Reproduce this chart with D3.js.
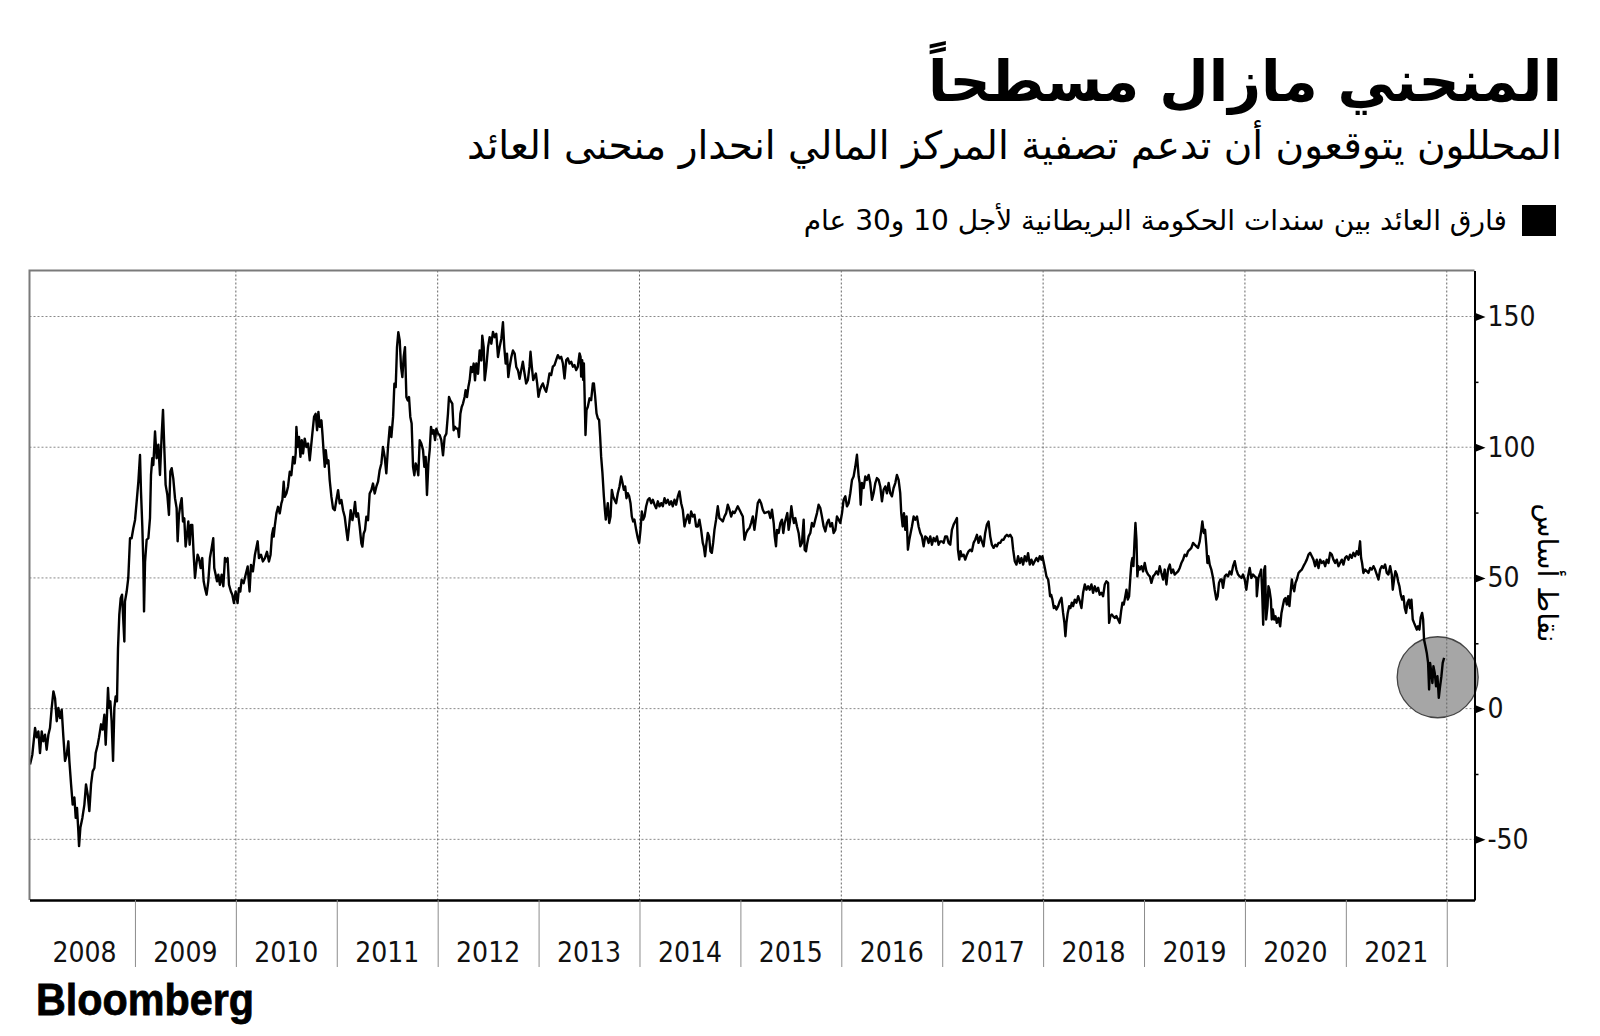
<!DOCTYPE html>
<html><head><meta charset="utf-8">
<script src="https://cdn.jsdelivr.net/npm/d3@7"></script>
<style>body{margin:0;background:#fff}svg{display:block}</style>
</head><body><svg id="c" width="1600" height="1036"></svg>
<script>
// ---------- texts ----------
const titleText = "المنحني مازال مسطحاً";
const subtitleText = "المحللون يتوقعون أن تدعم تصفية المركز المالي انحدار منحنى العائد";
const legendText = "فارق العائد بين سندات الحكومة البريطانية لأجل 10 و30 عام";
const yAxisTitle = "نقاط أساس";
const sourceText = "Bloomberg";

// ---------- axes ----------
const yTicks = [-50, 0, 50, 100, 150];
const yMinorTicks = [-25, 25, 75, 125];
const yearLabels = [2008, 2009, 2010, 2011, 2012, 2013, 2014, 2015, 2016, 2017, 2018, 2019, 2020, 2021];
const yearBoundaries = [2009, 2010, 2011, 2012, 2013, 2014, 2015, 2016, 2017, 2018, 2019, 2020, 2021, 2022];
const gridYears = [2010, 2012, 2014, 2016, 2018, 2020, 2022];
const xDomain = [2007.955, 2022.275];
const yDomain = [-73.2, 167.6];
const highlight = {year: 2021.91, value: 12};

// ---------- series: UK 10y-30y gilt yield spread (bp), [decimal year, value] ----------
const spread2008_2010 = [[2007.960,-21.4],[2007.983,-17.6],[2008.010,-7.4],[2008.026,-11],[2008.043,-8.7],[2008.059,-17],[2008.076,-8.7],[2008.092,-12.5],[2008.109,-10],[2008.125,-15.7],[2008.142,-10],[2008.158,-7.4],[2008.175,0.3],[2008.192,6.6],[2008.208,4],[2008.225,-4.8],[2008.241,0.3],[2008.258,-3.6],[2008.274,-0.4],[2008.291,-11],[2008.307,-20],[2008.324,-17.6],[2008.340,-12.5],[2008.350,-20],[2008.367,-29],[2008.383,-36.7],[2008.400,-34],[2008.413,-41.8],[2008.426,-38],[2008.439,-46.9],[2008.446,-52.6],[2008.459,-45.6],[2008.479,-41.8],[2008.499,-36.7],[2008.515,-29],[2008.532,-32.9],[2008.548,-39.2],[2008.565,-29],[2008.581,-24],[2008.598,-22.7],[2008.611,-17],[2008.631,-13.8],[2008.644,-11],[2008.664,-6],[2008.680,-8],[2008.697,-2.3],[2008.710,-13.8],[2008.723,-2.3],[2008.733,7.9],[2008.743,0.3],[2008.756,2.8],[2008.769,-4.8],[2008.783,-20],[2008.796,0.3],[2008.809,4.7],[2008.822,2.8],[2008.832,23],[2008.845,36],[2008.859,42.3],[2008.872,43.6],[2008.885,33.4],[2008.895,25.7],[2008.901,41],[2008.918,44.8],[2008.934,50],[2008.951,65.2],[2008.967,65.2],[2008.984,69],[2009.001,72.2],[2009.017,79.2],[2009.034,86.9],[2009.050,97],[2009.060,83],[2009.073,69.7],[2009.083,56],[2009.090,37.2],[2009.100,56],[2009.116,64.6],[2009.133,65.2],[2009.149,72.9],[2009.159,89.4],[2009.172,95.8],[2009.182,93.2],[2009.199,106],[2009.215,95.8],[2009.232,101],[2009.248,89.4],[2009.265,104.7],[2009.278,114.3],[2009.291,99.6],[2009.304,85.6],[2009.321,81.8],[2009.337,74.1],[2009.351,90.7],[2009.364,92],[2009.380,88],[2009.397,80.5],[2009.413,76.7],[2009.423,64],[2009.436,74],[2009.450,78],[2009.463,80.5],[2009.476,71.6],[2009.489,72.8],[2009.502,62],[2009.516,66.5],[2009.529,71.6],[2009.542,62.7],[2009.555,70.3],[2009.568,70.3],[2009.582,58.9],[2009.595,50],[2009.608,55],[2009.621,58.9],[2009.634,57.6],[2009.651,53.8],[2009.667,57.6],[2009.681,48.7],[2009.694,46.1],[2009.710,43.6],[2009.727,48.7],[2009.743,57.6],[2009.760,61.4],[2009.776,65.2],[2009.786,53.8],[2009.800,51.2],[2009.813,48.7],[2009.826,51.2],[2009.842,47.4],[2009.859,51.2],[2009.876,46.8],[2009.892,57.6],[2009.905,56.3],[2009.918,57.6],[2009.932,47.4],[2009.951,44.8],[2009.965,43.6],[2009.981,40.4],[2009.998,44.8],[2010.017,40.4],[2010.031,46.1],[2010.044,44.8],[2010.057,49.3],[2010.077,48],[2010.097,51.2],[2010.117,54.4],[2010.136,44.8],[2010.150,55],[2010.169,52.5],[2010.189,58.9],[2010.202,61.4],[2010.216,64],[2010.229,57.6],[2010.249,58.9],[2010.268,56.3],[2010.288,57.6],[2010.308,60],[2010.328,56.3],[2010.344,58.9],[2010.358,66.5],[2010.371,69]];
const spread2010_2012 = [[2010.375,65.8],[2010.385,69.6],[2010.402,74.7],[2010.418,77.2],[2010.435,74.7],[2010.451,78.5],[2010.461,79.8],[2010.474,86.8],[2010.484,81],[2010.501,82.3],[2010.517,84.9],[2010.534,90.6],[2010.550,89.3],[2010.567,96.3],[2010.583,93.8],[2010.593,97.6],[2010.600,107.8],[2010.613,100.1],[2010.626,103.9],[2010.640,96.3],[2010.653,102.7],[2010.666,97.6],[2010.682,103.3],[2010.699,100.1],[2010.716,101.4],[2010.732,95],[2010.742,98.9],[2010.758,105.2],[2010.775,111.6],[2010.791,112.8],[2010.805,106.5],[2010.818,113.5],[2010.831,107.8],[2010.848,110.3],[2010.858,105.2],[2010.871,97.6],[2010.881,92.5],[2010.891,98.9],[2010.904,93.8],[2010.917,95],[2010.930,87.4],[2010.947,81],[2010.963,76.6],[2010.980,75.9],[2010.996,79.8],[2011.013,83.6],[2011.029,78.5],[2011.046,79.8],[2011.062,75.9],[2011.079,73.4],[2011.095,68.3],[2011.108,64.5],[2011.122,69.6],[2011.138,75.9],[2011.155,72.1],[2011.168,74.7],[2011.181,79.1],[2011.194,73.4],[2011.211,74.7],[2011.227,69.6],[2011.244,63.2],[2011.254,62],[2011.267,67],[2011.280,68.3],[2011.293,73.4],[2011.310,72.1],[2011.326,82.3],[2011.343,83.6],[2011.359,86.1],[2011.376,82.3],[2011.392,84.9],[2011.409,86.8],[2011.425,91.2],[2011.442,93.8],[2011.458,100.1],[2011.475,96.3],[2011.491,90],[2011.508,100.1],[2011.525,107.8],[2011.541,103.9],[2011.558,111.6],[2011.571,124.3],[2011.584,123],[2011.597,138.3],[2011.610,144],[2011.624,140.8],[2011.637,130.7],[2011.650,126.8],[2011.663,134.5],[2011.676,138.3],[2011.690,119.2],[2011.703,117.9],[2011.716,119.2],[2011.729,111.6],[2011.742,109.1],[2011.756,92.5],[2011.769,89.3],[2011.782,93.8],[2011.795,92.5],[2011.808,89.3],[2011.822,102.7],[2011.838,101.4],[2011.855,98.9],[2011.868,92.5],[2011.881,96.3],[2011.894,81.7],[2011.908,93.8],[2011.921,98.9],[2011.934,107.8],[2011.947,105.2],[2011.960,106.5],[2011.974,102.7],[2011.987,107.1],[2012.003,105.2],[2012.020,104.6],[2012.036,102.7],[2012.053,96.9],[2012.069,103.9],[2012.086,105.2],[2012.102,112.8],[2012.112,119.2],[2012.125,117.9],[2012.145,116.7],[2012.158,106.5],[2012.172,107.8],[2012.185,107.1],[2012.201,107.1],[2012.211,103.9],[2012.225,112.8],[2012.238,115.4],[2012.251,116.7],[2012.267,119.2],[2012.277,121.8],[2012.291,119.2],[2012.304,123],[2012.317,125.6],[2012.330,130.7],[2012.343,128.8],[2012.357,132],[2012.370,125.6],[2012.383,132],[2012.400,128.1],[2012.416,137],[2012.433,133.2],[2012.442,142.7],[2012.456,138.3],[2012.466,125.6],[2012.482,130.7],[2012.499,138.3],[2012.515,142.1],[2012.532,139.6],[2012.548,144.1],[2012.565,142.1],[2012.581,143.4],[2012.598,134.5],[2012.614,138.3],[2012.631,141.5],[2012.647,147.8],[2012.660,138.3],[2012.674,132],[2012.687,135.8],[2012.700,126.8],[2012.713,130.7],[2012.730,134.5],[2012.746,137],[2012.763,135.8],[2012.779,130.7],[2012.796,129.4],[2012.812,126.2]];
const spread2012_2015 = [[2012.828,129.5],[2012.844,132.7],[2012.861,128.2],[2012.877,124.4],[2012.894,125.7],[2012.910,130.8],[2012.920,136.5],[2012.933,130.8],[2012.947,125.7],[2012.960,127],[2012.973,128.2],[2012.986,124.4],[2012.999,119.3],[2013.013,121.9],[2013.026,123.2],[2013.042,124.4],[2013.059,122.5],[2013.075,121.2],[2013.092,124.4],[2013.108,128.2],[2013.125,127.6],[2013.141,130.8],[2013.158,131.4],[2013.174,133.3],[2013.191,135.2],[2013.208,134],[2013.224,134.6],[2013.241,132],[2013.257,126.3],[2013.274,133.3],[2013.290,134],[2013.307,132],[2013.323,132.7],[2013.340,130.8],[2013.356,131.4],[2013.373,129.5],[2013.389,130.8],[2013.406,135.9],[2013.416,134.6],[2013.422,127],[2013.432,133.3],[2013.442,125.7],[2013.449,132],[2013.455,121.9],[2013.465,104.7],[2013.475,114.2],[2013.488,115.5],[2013.505,118.7],[2013.521,118],[2013.538,124.4],[2013.548,124.4],[2013.561,119.3],[2013.574,113],[2013.587,111.1],[2013.600,110.4],[2013.610,104.1],[2013.620,96.4],[2013.633,90.1],[2013.647,81.2],[2013.657,76.1],[2013.666,72.3],[2013.676,75.4],[2013.686,78.6],[2013.700,71],[2013.713,73.5],[2013.726,83.7],[2013.739,81.2],[2013.752,79.9],[2013.769,78.6],[2013.785,82.4],[2013.802,85],[2013.818,88.8],[2013.832,86.3],[2013.845,83.7],[2013.858,85],[2013.871,80.5],[2013.884,82.4],[2013.898,81.2],[2013.911,78.6],[2013.924,73.5],[2013.937,71.6],[2013.950,72.3],[2013.967,68.4],[2013.983,65.3],[2013.997,63.4],[2014.010,68.4],[2014.023,75.4],[2014.036,72.3],[2014.050,73.5],[2014.066,77.4],[2014.083,79.9],[2014.099,80.5],[2014.116,78.6],[2014.132,79.9],[2014.149,78],[2014.165,76.7],[2014.182,79.3],[2014.198,77.4],[2014.215,78.6],[2014.231,77.4],[2014.248,80.5],[2014.264,78.6],[2014.281,79.9],[2014.297,78],[2014.314,79.3],[2014.330,77.4],[2014.347,79.9],[2014.363,78],[2014.380,81.2],[2014.396,83.1],[2014.413,78.6],[2014.429,76.1],[2014.446,69.7],[2014.462,72.3],[2014.479,74.2],[2014.495,71],[2014.512,75.4],[2014.528,73.5],[2014.545,74.2],[2014.561,69.7],[2014.578,69.7],[2014.594,72.3],[2014.611,68.4],[2014.627,63.4],[2014.637,62.1],[2014.650,58.3],[2014.664,63.4],[2014.677,67.2],[2014.690,65.9],[2014.703,60.2],[2014.717,59.6],[2014.730,63.4],[2014.743,68.4],[2014.759,72.3],[2014.776,77.4],[2014.792,72.9],[2014.809,72.3],[2014.826,71.6],[2014.842,73.5],[2014.859,74.8],[2014.875,78],[2014.892,76.1],[2014.908,73.5],[2014.925,75.4],[2014.941,74.8],[2014.958,76.1],[2014.974,77.4],[2014.991,76.1],[2015.007,74.8],[2015.024,73.5],[2015.040,64.6],[2015.057,67.2],[2015.073,68.4],[2015.090,69.1],[2015.106,71],[2015.123,73.5],[2015.139,68.4],[2015.156,73.5],[2015.172,78.6],[2015.189,79.9],[2015.205,78.6],[2015.222,76.1],[2015.238,74.8]];
const spread2015_2017 = [[2015.280,75.4],[2015.297,72.9],[2015.313,76.1],[2015.330,71],[2015.340,65.9],[2015.353,62.1],[2015.363,68.4],[2015.379,67.2],[2015.396,71],[2015.412,72.3],[2015.425,67.2],[2015.439,71],[2015.452,72.9],[2015.465,74.8],[2015.478,68.4],[2015.491,71.6],[2015.505,77.4],[2015.518,73.5],[2015.531,71],[2015.544,72.9],[2015.561,69.7],[2015.577,67.2],[2015.594,62.1],[2015.610,63.4],[2015.627,72.3],[2015.637,60.8],[2015.650,60.2],[2015.663,63.4],[2015.676,65.9],[2015.693,67.2],[2015.709,71],[2015.726,69.7],[2015.742,72.3],[2015.759,74.8],[2015.775,78],[2015.792,76.7],[2015.808,73.5],[2015.825,69.7],[2015.842,67.8],[2015.858,71],[2015.875,72.3],[2015.891,69.7],[2015.908,71],[2015.924,67.2],[2015.941,68.4],[2015.957,73.5],[2015.974,72.3],[2015.990,71],[2016.007,74.8],[2016.023,79.9],[2016.040,81.2],[2016.056,77.4],[2016.073,78.6],[2016.089,82.4],[2016.106,87.5],[2016.122,88.8],[2016.139,92.6],[2016.155,97.1],[2016.172,88.8],[2016.182,86.3],[2016.192,78],[2016.205,86.3],[2016.221,84.4],[2016.238,88.8],[2016.254,87.5],[2016.271,89.4],[2016.287,86.3],[2016.304,79.9],[2016.320,82.4],[2016.337,86.3],[2016.353,88.2],[2016.370,87.5],[2016.386,85],[2016.403,79.3],[2016.419,83.7],[2016.436,85],[2016.452,82.4],[2016.469,86.3],[2016.485,82.4],[2016.502,81.2],[2016.518,84.4],[2016.535,86.3],[2016.551,89.4],[2016.568,87.5],[2016.584,82.4],[2016.594,74.8],[2016.608,69.7],[2016.621,74.8],[2016.634,68.4],[2016.647,73.5],[2016.660,60.8],[2016.674,64.6],[2016.687,67.2],[2016.700,69.7],[2016.717,73.5],[2016.733,72.3],[2016.750,73.5],[2016.766,69.7],[2016.783,67.2],[2016.799,65.9],[2016.816,62.1],[2016.832,65.9],[2016.849,65.3],[2016.865,63.4],[2016.882,65.9],[2016.898,62.7],[2016.915,65.3],[2016.931,64],[2016.948,65.9],[2016.964,62.7],[2016.981,64],[2016.997,64],[2017.014,63.4],[2017.030,65.9],[2017.047,65.9],[2017.063,63.4],[2017.080,62.7],[2017.096,68.4],[2017.113,70.4],[2017.129,71.6],[2017.146,72.9],[2017.156,60.8],[2017.169,57],[2017.182,60.2],[2017.195,58.3],[2017.212,58.9],[2017.228,57],[2017.245,58.9],[2017.261,60.2],[2017.278,60.8],[2017.294,60.2],[2017.311,63.4],[2017.327,64.6],[2017.344,66.5],[2017.360,63.4],[2017.377,65.9],[2017.393,64],[2017.410,62.1],[2017.426,67.2],[2017.443,70.4],[2017.459,71.6],[2017.476,65.9],[2017.492,62.7],[2017.509,61.5],[2017.526,62.7],[2017.542,62.1],[2017.559,63.4],[2017.575,63.4],[2017.592,64.6],[2017.608,64.6],[2017.625,65.9],[2017.641,66.5],[2017.658,65.9],[2017.674,66.5],[2017.691,65.3]];
const spread2017_2020 = [[2017.703,60.8],[2017.719,56.4],[2017.736,55.1],[2017.752,58.3],[2017.769,55.7],[2017.785,57.6],[2017.802,55.1],[2017.818,58.3],[2017.835,56.4],[2017.851,59.5],[2017.868,55.1],[2017.884,57],[2017.901,55.1],[2017.917,56.4],[2017.934,57.6],[2017.950,56.4],[2017.967,58.3],[2017.983,57],[2017.993,58.3],[2018.007,55.7],[2018.020,53.2],[2018.033,50.6],[2018.050,49.4],[2018.059,46.8],[2018.069,43],[2018.079,43.6],[2018.092,41.7],[2018.106,38.5],[2018.119,39.2],[2018.132,37.9],[2018.149,39.2],[2018.165,41.1],[2018.182,42.4],[2018.198,36.6],[2018.211,32.8],[2018.221,27.7],[2018.231,32.8],[2018.244,36.6],[2018.258,39.2],[2018.271,38.5],[2018.284,40.5],[2018.297,39.2],[2018.314,41.7],[2018.330,40.5],[2018.347,43],[2018.363,41.1],[2018.380,38.5],[2018.396,44.3],[2018.413,47.5],[2018.429,45.5],[2018.446,46.8],[2018.462,45.5],[2018.479,47.5],[2018.495,44.3],[2018.512,46.8],[2018.528,44.9],[2018.545,46.2],[2018.561,43.6],[2018.578,44.3],[2018.594,43],[2018.611,47.5],[2018.627,48.7],[2018.644,48.1],[2018.654,32.8],[2018.667,35.4],[2018.680,36],[2018.693,35.4],[2018.710,34.7],[2018.726,35.4],[2018.743,34.1],[2018.759,32.8],[2018.773,37.3],[2018.786,40.5],[2018.799,39.8],[2018.812,42.4],[2018.826,45.5],[2018.839,41.7],[2018.852,43],[2018.865,50.6],[2018.875,55.7],[2018.885,57.6],[2018.895,54.5],[2018.905,63.4],[2018.915,71],[2018.925,64.6],[2018.934,50.6],[2018.944,54.5],[2018.958,53.2],[2018.974,54.5],[2018.991,52.5],[2019.007,55.7],[2019.024,52.5],[2019.040,51.3],[2019.057,50.6],[2019.073,48.1],[2019.090,50.6],[2019.106,51.3],[2019.123,52.5],[2019.139,51.3],[2019.156,54.5],[2019.172,51.9],[2019.189,49.4],[2019.205,53.2],[2019.222,47.5],[2019.238,53.2],[2019.255,55.1],[2019.271,51.9],[2019.288,53.2],[2019.304,51.3],[2019.321,51.9],[2019.337,52.5],[2019.354,53.8],[2019.370,55.7],[2019.387,57],[2019.403,58.9],[2019.420,58.3],[2019.436,60.2],[2019.453,60.8],[2019.469,61.5],[2019.486,63.4],[2019.502,62.7],[2019.519,62.1],[2019.535,61.5],[2019.552,64],[2019.568,68.4],[2019.578,71.6],[2019.592,67.2],[2019.605,68.4],[2019.618,62.1],[2019.628,55.7],[2019.638,58.3],[2019.651,55.1],[2019.667,53.2],[2019.684,50],[2019.700,45.5],[2019.717,41.7],[2019.730,43],[2019.743,48.1],[2019.757,49.4],[2019.770,49.4],[2019.783,46.2],[2019.800,50.6],[2019.816,51.3],[2019.833,50.6],[2019.849,52.5],[2019.866,51.3],[2019.882,54.5],[2019.899,56.4],[2019.915,53.2],[2019.932,51.3],[2019.948,50.6],[2019.965,50],[2019.981,51.3],[2019.998,49.4],[2020.014,45.5],[2020.031,50.6],[2020.047,53.8],[2020.064,50],[2020.080,51.3],[2020.097,50.6],[2020.113,50]];
const spread2020_2021 = [[2020.118,43],[2020.134,50],[2020.151,51.9],[2020.161,53.2],[2020.171,44.3],[2020.181,32.1],[2020.191,53.2],[2020.200,54.5],[2020.210,34.1],[2020.224,39.2],[2020.233,46.8],[2020.243,45.5],[2020.257,41.7],[2020.266,34.1],[2020.276,37.9],[2020.290,34.1],[2020.303,35.3],[2020.316,32.8],[2020.332,34.7],[2020.349,31.5],[2020.362,36.6],[2020.375,39.2],[2020.389,41.7],[2020.402,42.3],[2020.415,39.8],[2020.428,43],[2020.441,39.2],[2020.455,45.5],[2020.465,49.4],[2020.474,46.8],[2020.488,44.9],[2020.501,48.1],[2020.514,49.4],[2020.531,51.9],[2020.547,52.6],[2020.564,53.2],[2020.580,54.5],[2020.597,55.7],[2020.613,57],[2020.630,58.9],[2020.646,59.6],[2020.663,58.3],[2020.679,57],[2020.696,54.5],[2020.712,57],[2020.729,53.8],[2020.745,57],[2020.762,55.7],[2020.778,56.4],[2020.795,54.5],[2020.811,57],[2020.828,55.7],[2020.844,59.6],[2020.861,58.9],[2020.877,57],[2020.894,55.7],[2020.910,57],[2020.927,54.5],[2020.943,55.7],[2020.960,57],[2020.976,55.1],[2020.993,57.7],[2021.009,58.3],[2021.026,57],[2021.042,58.9],[2021.059,57.7],[2021.075,59.6],[2021.092,58.3],[2021.108,60.2],[2021.125,58.9],[2021.141,64],[2021.151,57.7],[2021.161,55.7],[2021.174,51.9],[2021.191,53.2],[2021.208,52.6],[2021.224,51.9],[2021.241,53.8],[2021.257,53.2],[2021.274,54.5],[2021.290,53.2],[2021.307,51.3],[2021.323,49.4],[2021.340,53.2],[2021.356,54.5],[2021.373,53.8],[2021.389,55.1],[2021.406,51.9],[2021.422,51.3],[2021.439,54.5],[2021.455,51.3],[2021.465,45.5],[2021.478,49.4],[2021.491,52.6],[2021.505,51.3],[2021.518,48.7],[2021.531,46.8],[2021.544,43.6],[2021.558,41.7],[2021.571,43],[2021.584,38.5],[2021.597,36.6],[2021.610,40.5],[2021.624,41.7],[2021.637,38.5],[2021.650,41.7],[2021.663,34.1],[2021.676,32.8],[2021.690,31.5],[2021.703,30.2],[2021.716,31.5],[2021.729,30.2],[2021.742,34.9],[2021.756,36.6],[2021.766,34.1],[2021.775,26.4],[2021.789,23.9],[2021.802,21.3],[2021.815,17.5],[2021.825,7.3],[2021.835,17.5],[2021.848,13.6],[2021.858,9.8],[2021.868,16.2],[2021.881,13.6],[2021.894,8.5],[2021.908,12.4],[2021.921,4.1],[2021.934,8.5],[2021.947,12.4],[2021.960,17.5],[2021.974,19.4]];

const series = [].concat(spread2008_2010, spread2010_2012, spread2012_2015, spread2015_2017, spread2017_2020, spread2020_2021);

// ---------- layout ----------
const plot = {left: 29.5, right: 1474.5, top: 270.5, bottom: 900};
const svg = d3.select("#c");
svg.append("rect").attr("width", 1600).attr("height", 1036).attr("fill", "#fff");

const x = d3.scaleLinear().domain(xDomain).range([plot.left, plot.right]);
const y = d3.scaleLinear().domain(yDomain).range([plot.bottom, plot.top]);

const arabicFont = "'DejaVu Sans', sans-serif";
const numFont = "'DejaVu Sans Condensed', 'Liberation Sans Narrow', sans-serif";

// titles
svg.append("text").attr("x", 1562).attr("y", 101).attr("direction", "rtl").attr("text-anchor", "start")
  .attr("font-family", arabicFont).attr("font-weight", "bold").attr("font-size", 57)
  .attr("fill", "#000").text(titleText);
svg.append("text").attr("x", 1562).attr("y", 159).attr("direction", "rtl").attr("text-anchor", "start")
  .attr("font-family", arabicFont).attr("font-size", 39).attr("fill", "#000").text(subtitleText);

// legend
svg.append("rect").attr("x", 1522).attr("y", 205).attr("width", 34).attr("height", 31).attr("fill", "#000");
svg.append("text").attr("x", 1507).attr("y", 230).attr("direction", "rtl").attr("text-anchor", "start")
  .attr("font-family", arabicFont).attr("font-size", 28).attr("fill", "#000").text(legendText);

// horizontal grid
svg.append("g").selectAll("line").data(yTicks).join("line")
  .attr("x1", plot.left).attr("x2", plot.right)
  .attr("y1", d => y(d)).attr("y2", d => y(d))
  .attr("stroke", "#8a8a8a").attr("stroke-width", 1).attr("stroke-dasharray", "2,2");

// highlight circle
svg.append("circle").attr("cx", x(highlight.year)).attr("cy", y(highlight.value)).attr("r", 40.5)
  .attr("fill", "#a6a6a6").attr("stroke", "#444").attr("stroke-width", 1.3);

// vertical grid
svg.append("g").selectAll("line").data(gridYears).join("line")
  .attr("x1", d => x(d)).attr("x2", d => x(d))
  .attr("y1", plot.top).attr("y2", plot.bottom)
  .attr("stroke", "#666").attr("stroke-width", 1).attr("stroke-dasharray", "2,2");

// line
const line = d3.line().x(d => x(d[0])).y(d => y(d[1]));
svg.append("path").datum(series).attr("d", line).attr("fill", "none")
  .attr("stroke", "#000").attr("stroke-width", 2.4).attr("stroke-linejoin", "round");

// frame (top, left)
svg.append("path").attr("d", `M${plot.left},${plot.bottom}V${plot.top}H${plot.right}`)
  .attr("fill", "none").attr("stroke", "#7a7a7a").attr("stroke-width", 2);

// x axis
const xAxis = d3.axisBottom(x).tickValues(yearBoundaries).tickSize(67).tickSizeOuter(0).tickFormat("");
const gx = svg.append("g").attr("transform", `translate(0,${plot.bottom})`).call(xAxis);
gx.select(".domain").attr("stroke", "#000").attr("stroke-width", 2.5);
gx.selectAll(".tick line").attr("stroke", "#8c8c8c").attr("stroke-width", 1);
svg.append("g").selectAll("text").data(yearLabels).join("text")
  .attr("x", d => (x(Math.max(d, xDomain[0])) + x(d + 1)) / 2)
  .attr("y", 962).attr("text-anchor", "middle")
  .attr("font-family", numFont).attr("font-size", 28).attr("fill", "#111").text(d => d);

// y axis (right)
const yAxis = d3.axisRight(y).tickValues(yTicks).tickSize(0).tickSizeOuter(0).tickPadding(13)
  .tickFormat(d => String(d));
const gy = svg.append("g").attr("transform", `translate(${plot.right},0)`).call(yAxis);
gy.select(".domain").attr("stroke", "#000").attr("stroke-width", 2);
gy.selectAll(".tick text").attr("font-family", numFont).attr("font-size", 28).attr("fill", "#111");
gy.selectAll(".tick").append("path").attr("d", "M1,-4L11,0L1,4Z").attr("fill", "#000");
const gyMinor = svg.append("g").attr("transform", `translate(${plot.right},0)`)
  .call(d3.axisRight(y).tickValues(yMinorTicks).tickSize(4).tickFormat(""));
gyMinor.select(".domain").remove();
gyMinor.selectAll(".tick line").attr("stroke", "#000").attr("stroke-width", 1.5);

// y axis title (rotated)
svg.append("text").attr("transform", "translate(1547,573) rotate(90)")
  .attr("text-anchor", "middle").attr("dominant-baseline", "central")
  .attr("font-family", arabicFont).attr("font-size", 28).attr("fill", "#000").text(yAxisTitle);

// source logo
svg.append("text").attr("x", 36).attr("y", 1015)
  .attr("font-family", "'Liberation Sans', Arial, sans-serif").attr("font-weight", "bold")
  .attr("font-size", 44).attr("textLength", 218).attr("lengthAdjust", "spacingAndGlyphs")
  .attr("stroke", "#000").attr("stroke-width", 0.8)
  .attr("fill", "#000").text(sourceText);
</script></body></html>
